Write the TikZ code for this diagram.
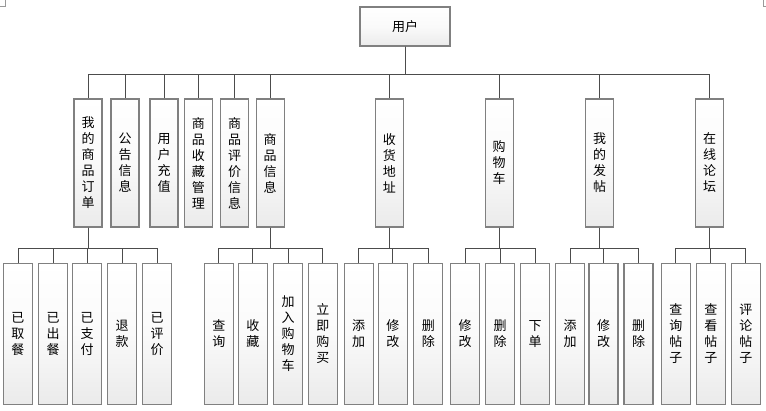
\documentclass[tikz,border=0pt]{standalone}
\usepackage{fontspec}
\newfontfamily\cjk{Noto Sans CJK SC}
\begin{document}
\begin{tikzpicture}[x=1pt,y=-1pt,
  box/.style={draw=black!50, line width=1.1pt, top color=white, bottom color=black!8, middle color=black!2,
    inner sep=0pt, align=center, font=\cjk\fontsize{13}{16}\selectfont},
  topbox/.style={box, minimum width=90pt, minimum height=39pt},
  midbox/.style={box, minimum width=28pt, minimum height=128pt},
  lowbox/.style={box, minimum width=29pt, minimum height=141pt},
  link/.style={draw=black!70, line width=0.9pt}]
\useasboundingbox (0,0) rectangle (766,410);
% faint corner marks
\draw[black!40, line width=0.6pt] (0,6) -- (5,6) -- (5,0);
\draw[black!40, line width=0.6pt] (766,6) -- (763,6) -- (763,0);

\node[topbox] (root) at (405,26.5) {用户};

\node[midbox] (a) at (88,163) {我\\的\\商\\品\\订\\单};
\node[midbox] (b) at (125,163) {公\\告\\信\\息};
\node[midbox] (c) at (164,163) {用\\户\\充\\值};
\node[midbox] (d) at (198.3,163) {商\\品\\收\\藏\\管\\理};
\node[midbox] (e) at (234.5,163) {商\\品\\评\\价\\信\\息};
\node[midbox] (f) at (270.2,163) {商\\品\\信\\息};
\node[midbox] (g) at (389.3,163) {收\\货\\地\\址};
\node[midbox] (h) at (499.2,163) {购\\物\\车};
\node[midbox] (i) at (599.5,163) {我\\的\\发\\帖};
\node[midbox] (j) at (709.5,163) {在\\线\\论\\坛};

\foreach \n in {a,b,c,d,e,f,g,h,i,j}
  \draw[link] (root.south) -- ++(0,27.5) -| (\n.north);

% level 3
\node[lowbox] (a1) at (18,333.7) {已\\取\\餐};
\node[lowbox] (a2) at (53.2,333.7) {已\\出\\餐};
\node[lowbox] (a3) at (87.2,333.7) {已\\支\\付};
\node[lowbox] (a4) at (122.2,333.7) {退\\款};
\node[lowbox] (a5) at (157.2,333.7) {已\\评\\价};

\node[lowbox] (f1) at (218.8,333.7) {查\\询};
\node[lowbox] (f2) at (252.8,333.7) {收\\藏};
\node[lowbox] (f3) at (288,333.7) {加\\入\\购\\物\\车};
\node[lowbox] (f4) at (322.8,333.7) {立\\即\\购\\买};

\node[lowbox] (g1) at (358.7,333.7) {添\\加};
\node[lowbox] (g2) at (392.8,333.7) {修\\改};
\node[lowbox] (g3) at (428.3,333.7) {删\\除};

\node[lowbox] (h1) at (465,333.7) {修\\改};
\node[lowbox] (h2) at (500.2,333.7) {删\\除};
\node[lowbox] (h3) at (535.2,333.7) {下\\单};

\node[lowbox] (i1) at (570.2,333.7) {添\\加};
\node[lowbox] (i2) at (603.5,333.7) {修\\改};
\node[lowbox] (i3) at (638.5,333.7) {删\\除};

\node[lowbox] (j1) at (675.8,333.7) {查\\询\\帖\\子};
\node[lowbox] (j2) at (710.8,333.7) {查\\看\\帖\\子};
\node[lowbox] (j3) at (745.8,333.7) {评\\论\\帖\\子};

\foreach \n in {a1,a2,a3,a4,a5} \draw[link] (a.south) -- ++(0,21.3) -| (\n.north);
\foreach \n in {f1,f2,f3,f4} \draw[link] (f.south) -- ++(0,21.3) -| (\n.north);
\foreach \n in {g1,g2,g3} \draw[link] (g.south) -- ++(0,21.3) -| (\n.north);
\foreach \n in {h1,h2,h3} \draw[link] (h.south) -- ++(0,21.3) -| (\n.north);
\foreach \n in {i1,i2,i3} \draw[link] (i.south) -- ++(0,21.3) -| (\n.north);
\foreach \n in {j1,j2,j3} \draw[link] (j.south) -- ++(0,21.3) -| (\n.north);
\end{tikzpicture}
\end{document}
